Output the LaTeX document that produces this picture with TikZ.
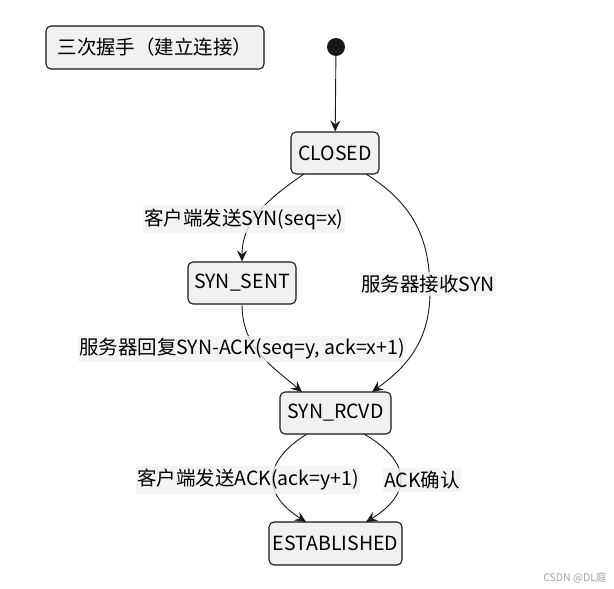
\documentclass[tikz,border=0pt]{standalone}
\usepackage{fontspec}
\setmainfont{Noto Sans CJK SC}
\usetikzlibrary{arrows.meta}
\definecolor{boxfill}{HTML}{F1F1F1}
\definecolor{boxline}{HTML}{181818}
\definecolor{lblfill}{HTML}{F2F2F2}
\definecolor{edgecol}{HTML}{181818}
\tikzset{
  statebox/.style={draw=boxline, fill=boxfill, line width=1.1pt, rounded corners=5pt,
    minimum height=42pt, inner sep=0pt, font=\fontsize{19.5}{23}\selectfont},
  lbl/.style={fill=lblfill, fill opacity=0.8, text opacity=1, inner xsep=1pt, inner ysep=3pt,
    font=\fontsize{19.5}{23}\selectfont},
  edge/.style={draw=edgecol, line width=0.9pt, -{Stealth[length=11pt,width=10pt,inset=4pt]}}
}
\begin{document}
\begin{tikzpicture}[x=1pt,y=-1pt]
\useasboundingbox (0,0) rectangle (614,589);
\fill[white] (0,0) rectangle (614,589);

\node[statebox, minimum width=218pt, minimum height=43pt] (title) at (155,47.5) {三次握手（建立连接）};
\node[circle, fill=edgecol, minimum size=18pt, inner sep=0pt] (start) at (336,47) {};
\node[statebox, minimum width=88pt] (closed) at (335,153) {CLOSED};
\node[statebox, minimum width=108pt] (sent) at (242,283) {SYN\_SENT};
\node[statebox, minimum width=111pt] (rcvd) at (335.5,413) {SYN\_RCVD};
\node[statebox, minimum width=133pt, minimum height=43pt] (est) at (335.5,543.5) {ESTABLISHED};

\coordinate (c1) at (304,174);
\coordinate (c2) at (366,174);
\coordinate (r1) at (302,392);
\coordinate (r2) at (372,392);
\coordinate (r3) at (307,434);
\coordinate (r4) at (364,434);
\coordinate (e1) at (306,522);
\coordinate (e2) at (366,522);

\draw[edge] (start) -- (closed);
\draw[edge] (c1) .. controls (266,200) and (242,222) .. (sent.north);
\draw[edge] (c2) .. controls (415,205) and (430,240) .. (430,292) .. controls (430,345) and (402,370) .. (r2);
\draw[edge] (sent.south) .. controls (242,348) and (272,366) .. (r1);
\draw[edge] (r3) .. controls (262,462) and (262,494) .. (e1);
\draw[edge] (r4) .. controls (412,462) and (412,494) .. (e2);

\node[lbl] (l1) at (244,219) {客户端发送SYN(seq=x)};
\node[lbl] (l2) at (428,284) {服务器接收SYN};
\node[lbl] (l3) at (242,349) {服务器回复SYN-ACK(seq=y, ack=x+1)};
\node[lbl] (l4) at (248,480) {客户端发送ACK(ack=y+1)};
\node[lbl] (l5) at (422,480) {ACK确认};

\node[text=black!35, font=\fontsize{10.5}{12}\selectfont, anchor=east] (wm) at (610,578) {CSDN @DL庭};
\end{tikzpicture}
\end{document}
